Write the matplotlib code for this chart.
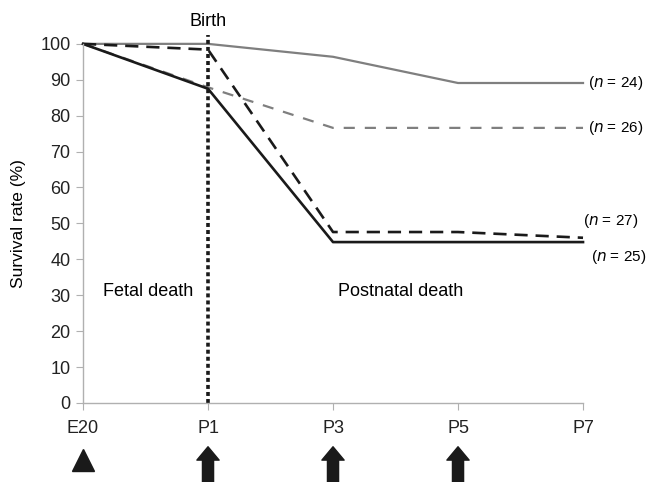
import matplotlib.pyplot as plt
from matplotlib.transforms import blended_transform_factory

# timepoints on the x axis
days = ["E20", "P1", "P3", "P5", "P7"]

# survival rate (%) per group
gray_solid = [100, 100, 96.4, 89.1, 89.1]
gray_dashed = [100, 87.9, 76.6, 76.6, 76.6]
black_dashed = [100, 98.4, 47.6, 47.6, 46.0]
black_solid = [100, 87.5, 44.8, 44.8, 44.8]

n_labels = ["24", "26", "27", "25"]
treat_days = ["P1", "P3", "P5"]

plt.rcParams['font.family'] = ['Liberation Sans', 'DejaVu Sans']

fig = plt.figure(figsize=(6.46, 4.82), dpi=100)
ax = fig.add_axes([0.1285, 0.164, 0.774, 0.745])

x = list(range(len(days)))
gray = "#7f7f7f"
dark = "#1a1a1a"

ax.plot(x, gray_solid, color=gray, lw=1.6, clip_on=False)
ax.plot(x, gray_dashed, color=gray, lw=1.6, dashes=(5, 4.5), clip_on=False)
ax.plot(x, black_dashed, color=dark, lw=1.9, dashes=(5, 3), clip_on=False)
ax.plot(x, black_solid, color=dark, lw=1.9, clip_on=False)

# birth marker
ax.plot([1, 1], [0, 102.5], color=dark, lw=2.6, linestyle=(0, (1.1, 0.85)),
        dash_capstyle='butt', clip_on=False)
ax.text(1, 106.3, "Birth", ha="center", va="center", fontsize=13)

ax.text(0.16, 31, "Fetal death", ha="left", va="center", fontsize=13)
ax.text(2.04, 31, "Postnatal death", ha="left", va="center", fontsize=13)

# group sizes at right end
nx = [4.04, 4.04, 4.0, 4.06]
ny = [gray_solid[-1], gray_dashed[-1], black_dashed[-1] + 4.8, black_solid[-1] - 4.2]
for lab, xx, yy in zip(n_labels, nx, ny):
    ax.text(xx, yy, "($\\it{n}$ = " + lab + ")", ha="left", va="center", fontsize=11)

ax.set_xlim(0, 4)
ax.set_ylim(0, 100)
ax.set_xticks(x)
ax.set_xticklabels(days)
ax.set_yticks(range(0, 101, 10))
ax.set_ylabel("Survival rate (%)", fontsize=12.5, labelpad=10)

for s in ["top", "right"]:
    ax.spines[s].set_visible(False)
for s in ["left", "bottom"]:
    ax.spines[s].set_color("#b0b0b0")
    ax.spines[s].set_linewidth(1.0)
ax.tick_params(axis="both", colors="#b0b0b0", labelcolor="#222222", length=5, labelsize=13)
ax.tick_params(axis="x", pad=7)
ax.tick_params(axis="y", pad=4)

# treatment markers below the axis
trans = blended_transform_factory(ax.transData, ax.transAxes)
ax.plot([0], [-0.159], marker="^", markersize=16, color=dark, transform=trans, clip_on=False)
for d in treat_days:
    xi = days.index(d)
    ax.annotate("", xy=(xi, -0.122), xytext=(xi, -0.26), xycoords=trans, textcoords=trans,
                arrowprops=dict(arrowstyle="simple,head_length=0.6,head_width=1.0,tail_width=0.5",
                                mutation_scale=16, color=dark, shrinkA=0, shrinkB=0),
                annotation_clip=False)

fig.savefig("out.png", dpi=100)
